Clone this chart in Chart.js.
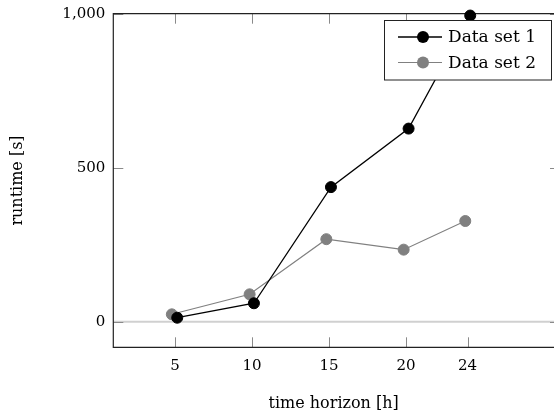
<!DOCTYPE html>
<html>
<head>
<meta charset="utf-8">
<script src="https://cdn.jsdelivr.net/npm/chart.js@4.4.1/dist/chart.umd.min.js"></script>
<style>
  html, body { margin: 0; padding: 0; background: #fff; overflow: hidden; }
  #wrap { position: absolute; left: 0; top: 0; width: 554px; height: 414px; }
</style>
</head>
<body>
<div id="wrap"><canvas id="runtimeChart" width="554" height="414"></canvas></div>
<script>
// data
const horizonTicks = [5, 10, 15, 20, 24];
const runtimeTicks = [0, 500, 1000];
const set1Hours = [5.15, 10.13, 15.13, 20.17, 24.17];
const set1Runtime = [13, 60, 437, 627, 994];
const set2Hours = [4.8, 9.85, 14.83, 19.85, 23.85];
const set2Runtime = [24, 89, 268, 234, 327];
const seriesNames = ['Data set 1', 'Data set 2'];

const serif = 'DejaVu Serif';
const X_MIN = 1, X_MAX = 30, X_VISIBLE = 29.61; // axis runs past the right edge of the picture

const toPoints = (xs, ys) => xs.map((x, i) => ({ x: x, y: ys[i] }));

// frame, inward ticks and the boxed legend (pgfplots style)
const framePlugin = {
    id: 'frame',
    beforeDatasetsDraw(chart) {
        const { ctx, chartArea: a, scales } = chart;
        const rightEdge = scales.x.getPixelForValue(X_MAX);
        ctx.save();
        // zero line
        const y0 = scales.y.getPixelForValue(0);
        ctx.strokeStyle = '#d0d0d0';
        ctx.lineWidth = 2;
        ctx.beginPath();
        ctx.moveTo(a.left, y0);
        ctx.lineTo(a.right, y0);
        ctx.stroke();
        // inward ticks
        ctx.strokeStyle = '#8a8a8a';
        ctx.lineWidth = 1;
        ctx.beginPath();
        scales.x.ticks.forEach(t => {
            const px = Math.round(scales.x.getPixelForValue(t.value)) + 0.5;
            ctx.moveTo(px, a.top); ctx.lineTo(px, a.top + 10);
            ctx.moveTo(px, a.bottom); ctx.lineTo(px, a.bottom - 10);
        });
        scales.y.ticks.forEach(t => {
            const py = Math.round(scales.y.getPixelForValue(t.value)) + 0.5;
            ctx.moveTo(a.left, py); ctx.lineTo(a.left + 10, py);
            ctx.moveTo(rightEdge, py); ctx.lineTo(rightEdge - 10, py);
        });
        ctx.stroke();
        // border (right side lies outside the picture)
        ctx.strokeStyle = '#222';
        ctx.lineWidth = 1.2;
        ctx.beginPath();
        ctx.moveTo(rightEdge, a.top);
        ctx.lineTo(a.left, a.top);
        ctx.lineTo(a.left, a.bottom);
        ctx.lineTo(rightEdge, a.bottom);
        ctx.stroke();
        ctx.restore();
    },
    afterDraw(chart) {
        const { ctx } = chart;
        const box = { left: 384.5, top: 20.5, width: 167, height: 59.5 };
        ctx.save();
        ctx.fillStyle = '#fff';
        ctx.fillRect(box.left, box.top, box.width, box.height);
        ctx.strokeStyle = '#222';
        ctx.lineWidth = 1;
        ctx.strokeRect(box.left, box.top, box.width, box.height);
        ctx.font = '17px "' + serif + '"';
        ctx.textBaseline = 'middle';
        chart.data.datasets.forEach((ds, i) => {
            const cy = 37 + i * 25.5;
            ctx.strokeStyle = ds.borderColor;
            ctx.lineWidth = ds.borderWidth;
            ctx.beginPath();
            ctx.moveTo(398, cy);
            ctx.lineTo(442, cy);
            ctx.stroke();
            ctx.fillStyle = ds.pointBackgroundColor;
            ctx.beginPath();
            ctx.arc(423, cy, 6, 0, Math.PI * 2);
            ctx.fill();
            ctx.fillStyle = '#000';
            ctx.fillText(ds.label, 448, cy + 1);
        });
        ctx.restore();
    }
};

const ctx = document.getElementById('runtimeChart').getContext('2d');

new Chart(ctx, {
    type: 'scatter',
    data: {
        datasets: [
            {
                label: seriesNames[0],
                data: toPoints(set1Hours, set1Runtime),
                showLine: true,
                borderColor: '#000',
                backgroundColor: '#000',
                pointBackgroundColor: '#000',
                pointBorderColor: '#000',
                borderWidth: 1.3,
                pointRadius: 5.5,
                pointBorderWidth: 1,
                clip: false
            },
            {
                label: seriesNames[1],
                data: toPoints(set2Hours, set2Runtime),
                showLine: true,
                borderColor: '#808080',
                backgroundColor: '#808080',
                pointBackgroundColor: '#808080',
                pointBorderColor: '#808080',
                borderWidth: 1.1,
                pointRadius: 5.5,
                pointBorderWidth: 1,
                clip: false
            }
        ]
    },
    options: {
        responsive: false,
        animation: false,
        layout: { autoPadding: false, padding: { top: 13.7, right: 0, bottom: 0, left: 0 } },
        plugins: {
            legend: { display: false },
            tooltip: { enabled: false }
        },
        scales: {
            x: {
                type: 'linear',
                min: X_MIN,
                max: X_VISIBLE,
                afterBuildTicks: s => { s.ticks = horizonTicks.map(v => ({ value: v })); },
                afterFit: s => { s.height = 66.7; s.paddingLeft = 0; s.paddingRight = 0; },
                grid: { display: false, drawTicks: false },
                border: { display: false },
                ticks: {
                    color: '#000',
                    padding: 10,
                    font: { family: serif, size: 15 }
                },
                title: {
                    display: true,
                    text: 'time horizon [h]',
                    color: '#000',
                    padding: { top: 0, bottom: 1 },
                    font: { family: serif, size: 16 }
                }
            },
            y: {
                min: -83,
                max: 1000,
                afterBuildTicks: s => { s.ticks = runtimeTicks.map(v => ({ value: v })); },
                afterFit: s => { s.width = 113.3; s.paddingTop = 0; s.paddingBottom = 0; },
                grid: { display: false, drawTicks: false },
                border: { display: false },
                ticks: {
                    color: '#000',
                    padding: 8,
                    font: { family: serif, size: 15 },
                    callback: v => v.toLocaleString('en-US')
                },
                title: {
                    display: true,
                    text: 'runtime [s]',
                    color: '#000',
                    padding: { top: 8, bottom: 0 },
                    font: { family: serif, size: 16 }
                }
            }
        }
    },
    plugins: [framePlugin]
});
</script>
</body>
</html>
